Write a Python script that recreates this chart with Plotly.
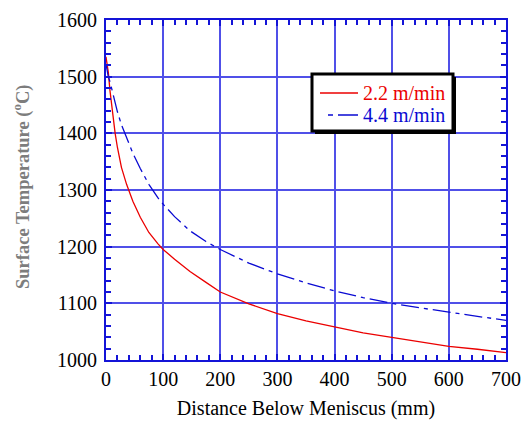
import plotly.graph_objects as go

distance_mm = [0, 2, 4, 7, 10, 13, 16, 20, 27, 36, 47, 60, 75, 91, 100, 120, 147, 175,
               200, 250, 300, 350, 400, 450, 500, 550, 600, 650, 700]
temp_22 = [1535, 1520, 1508, 1475, 1450, 1420, 1400, 1375, 1340, 1310, 1280, 1252, 1225, 1205,
           1195, 1178, 1156, 1137, 1120, 1099, 1082, 1069, 1058, 1048, 1040, 1032, 1024, 1019, 1013]
temp_44 = [1522, 1507, 1500, 1491, 1478, 1467, 1455, 1438, 1415, 1394, 1365, 1338, 1310, 1286,
           1275, 1253, 1228, 1209, 1195, 1171, 1152, 1136, 1122, 1110, 1100, 1092, 1084, 1077, 1070]
series_names = ["2.2 m/min", "4.4 m/min"]
x_ticks = [0, 100, 200, 300, 400, 500, 600, 700]
y_ticks = [1000, 1100, 1200, 1300, 1400, 1500, 1600]

RED = "rgb(235,0,0)"
BLUE = "rgb(10,10,210)"
AXIS = "rgb(20,20,215)"
GRID = "rgb(80,80,232)"
FONT = "Liberation Serif"
DASH = "18px,5px,4px,5px"

# plot-area geometry (pixels) used for converting legend positions to paper coords
L, R, T, B = 106, 506, 20, 360


def px(xp):
    return (xp - L) / (R - L)


def py(yp):
    return (B - yp) / (B - T)


fig = go.Figure()
fig.add_trace(go.Scatter(x=distance_mm, y=temp_22, mode="lines", name=series_names[0],
                         line=dict(color=RED, width=1.3), showlegend=False))
fig.add_trace(go.Scatter(x=distance_mm, y=temp_44, mode="lines", name=series_names[1],
                         line=dict(color=BLUE, width=1.3, dash=DASH), showlegend=False))

axis_common = dict(
    showline=True, linecolor=AXIS, linewidth=2, mirror="allticks",
    showgrid=True, gridcolor=GRID, gridwidth=1.5,
    ticks="inside", ticklen=6, tickcolor=AXIS, tickwidth=1.5,
    tickfont=dict(family=FONT, size=20, color="black"),
    zeroline=False, automargin=False,
)

fig.update_xaxes(range=[0, 700], tickvals=x_ticks, ticktext=[str(v) for v in x_ticks],
                 minor=dict(dtick=20, tick0=0, ticks="inside", ticklen=5, tickcolor=AXIS, showgrid=False),
                 title=dict(text="Distance Below Meniscus (mm)", font=dict(family=FONT, size=20, color="black"),
                            standoff=12),
                 **axis_common)
fig.update_yaxes(range=[1000, 1600], tickvals=y_ticks, ticktext=[str(v) for v in y_ticks],
                 minor=dict(dtick=20, tick0=1000, ticks="inside", ticklen=5, tickcolor=AXIS, showgrid=False),
                 ticklabelstandoff=3,
                 **axis_common)

# legend: shadow, box, samples, labels
fig.add_shape(type="rect", xref="paper", yref="paper",
              x0=px(315), x1=px(456), y0=py(134), y1=py(77),
              fillcolor="black", line=dict(width=0), layer="above")
fig.add_shape(type="rect", xref="paper", yref="paper",
              x0=px(312), x1=px(453), y0=py(131), y1=py(74),
              fillcolor="white", line=dict(color="black", width=3), layer="above")
fig.add_shape(type="line", xref="paper", yref="paper",
              x0=px(320), x1=px(358), y0=py(93), y1=py(93),
              line=dict(color=RED, width=1.3), layer="above")
fig.add_shape(type="line", xref="paper", yref="paper",
              x0=px(328), x1=px(358), y0=py(115), y1=py(115),
              line=dict(color=BLUE, width=1.3, dash="5px,5px,20px,3px"), layer="above")
fig.add_annotation(text=series_names[0], xref="paper", yref="paper", x=px(361), y=py(93),
                   xanchor="left", yanchor="middle", showarrow=False,
                   font=dict(family=FONT, size=20, color=RED))
fig.add_annotation(text=series_names[1], xref="paper", yref="paper", x=px(361), y=py(115),
                   xanchor="left", yanchor="middle", showarrow=False,
                   font=dict(family=FONT, size=20, color=BLUE))

fig.add_annotation(text="<b>Surface Temperature (<sup>o</sup>C)</b>", xref="paper", yref="paper",
                   x=px(21), y=py(187), textangle=-90, showarrow=False,
                   xanchor="center", yanchor="middle",
                   font=dict(family=FONT, size=18.5, color="rgb(125,125,125)"))

fig.update_layout(
    width=522, height=421,
    margin=dict(l=L, r=522 - R, t=T, b=421 - B),
    paper_bgcolor="white", plot_bgcolor="white",
    showlegend=False,
)

fig.write_html("out.html", config={"displayModeBar": False},
               post_script="document.body.style.margin='0';document.documentElement.style.overflow='hidden';")
